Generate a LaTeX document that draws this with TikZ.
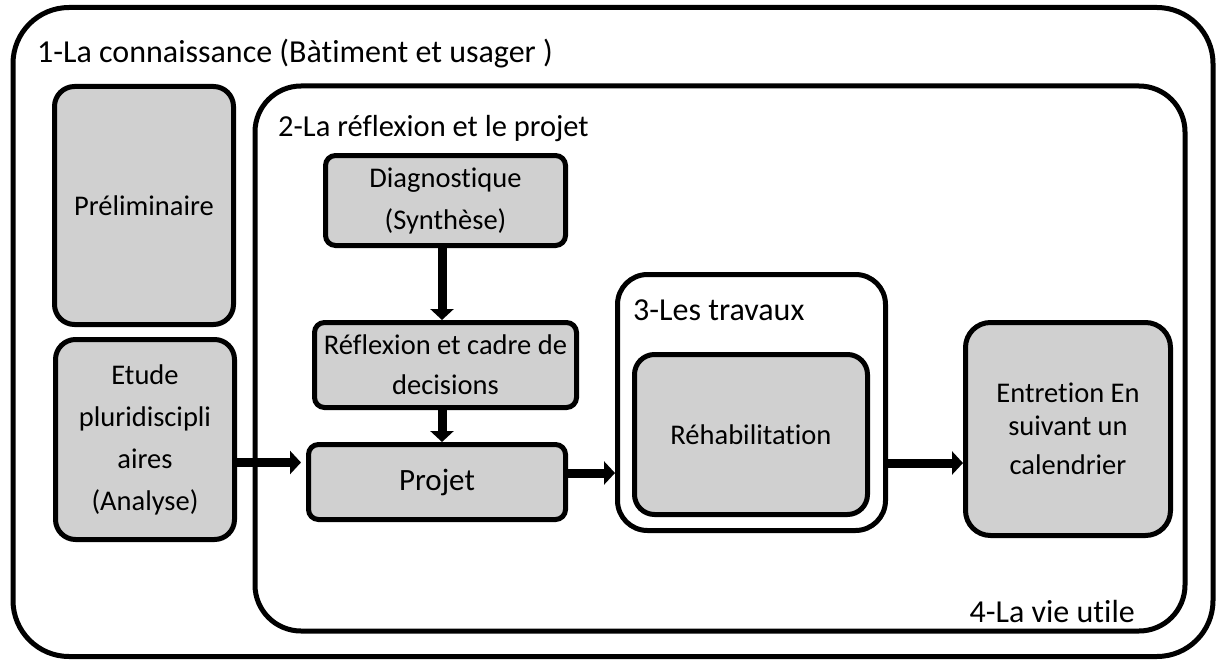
\documentclass[tikz,border=0pt]{standalone}
\usepackage{fontspec}
\setmainfont{Carlito}[RawFeature={-liga;-clig;-dlig}]
\definecolor{boxgray}{RGB}{208,208,208}
\usetikzlibrary{arrows.meta,positioning,calc}

\begin{document}
\begin{tikzpicture}[x=1pt,y=-1pt,
  graybox/.style={draw=black,fill=boxgray,line width=5pt,align=center,inner sep=0pt,
    font=\fontsize{28.5}{42}\selectfont},
  framebox/.style={draw=black,fill=white,line width=5pt,inner sep=0pt},
  titletext/.style={anchor=west,inner sep=0pt,font=\fontsize{32}{38}\selectfont},
  bigarrow/.style={line width=9pt,-{Triangle[width=23pt,length=11pt]}}]
  \useasboundingbox (0,0) rectangle (1224,661);
  % Outer frame: 1-La connaissance
  \node[framebox,rounded corners=56pt,minimum width=1200pt,minimum height=649pt]
    (connaissance) at (613,332) {};
  \node[titletext] (t1) at (37,54) {1-La connaissance (Bàtiment et usager )};
  % Inner frame: 2-La reflexion et le projet
  \node[framebox,rounded corners=46pt,minimum width=930pt,minimum height=545pt]
    (reflexion) at (720,358.5) {};
  \node[titletext,font=\fontsize{30.5}{36}\selectfont] (t2) at (278,129) {2-La réflexion et le projet};
  \node[titletext,anchor=east] (t4) at (1135,612) {4-La vie utile};
  % Left column
  \node[graybox,rounded corners=20pt,minimum width=179pt,minimum height=238pt]
    (prelim) at (144,205.5) {Préliminaire};
  \node[graybox,rounded corners=20pt,minimum width=179pt,minimum height=200pt]
    (etude) at (145,439.5) {Etude\\pluridiscipli\\aires\\(Analyse)};
  % Middle column
  \node[graybox,rounded corners=10pt,minimum width=240pt,minimum height=90pt]
    (diag) at (445.5,200.5) {Diagnostique\\(Synthèse)};
  \node[graybox,rounded corners=10pt,minimum width=262pt,minimum height=85pt,
    font=\fontsize{28.5}{40}\selectfont] (cadre) at (445.5,365) {Réflexion et cadre de\\decisions};
  \node[graybox,rounded corners=10pt,minimum width=257pt,minimum height=75pt,
    font=\fontsize{31}{38}\selectfont] (projet) at (437,482) {Projet};
  % 3-Les travaux
  \node[framebox,rounded corners=30pt,minimum width=268pt,minimum height=256pt]
    (travaux) at (751.5,402.5) {};
  \node[titletext] (t3) at (633,310) {3-Les travaux};
  \node[graybox,rounded corners=20pt,minimum width=233pt,minimum height=160pt]
    (rehab) at (751,434.5) {Réhabilitation};
  % Entretien
  \node[graybox,rounded corners=25pt,minimum width=205pt,minimum height=213pt,
    font=\fontsize{28.5}{33}\selectfont] (entretion) at (1068,429)
    {Entretion En\\suivant un\\[6pt]calendrier};
  % Arrows
  \coordinate (etout) at ([yshift=-23pt]etude.east);
  \coordinate (prout) at ([yshift=9pt]projet.east);
  \coordinate (enin) at ([yshift=-34pt]entretion.west);
  \draw[bigarrow] ([xshift=-3.5pt]diag.south) -- ([xshift=-3.5pt]cadre.north);
  \draw[bigarrow] ([xshift=-3.5pt]cadre.south) -- ([xshift=-3.5pt]cadre.south |- projet.north);
  \draw[bigarrow,shorten >=5pt] (etout) -- (etout -| projet.west);
  \draw[bigarrow] (prout) -- (prout -| travaux.west);
  \draw[bigarrow] (enin -| travaux.east) -- (enin);
\end{tikzpicture}
\end{document}
